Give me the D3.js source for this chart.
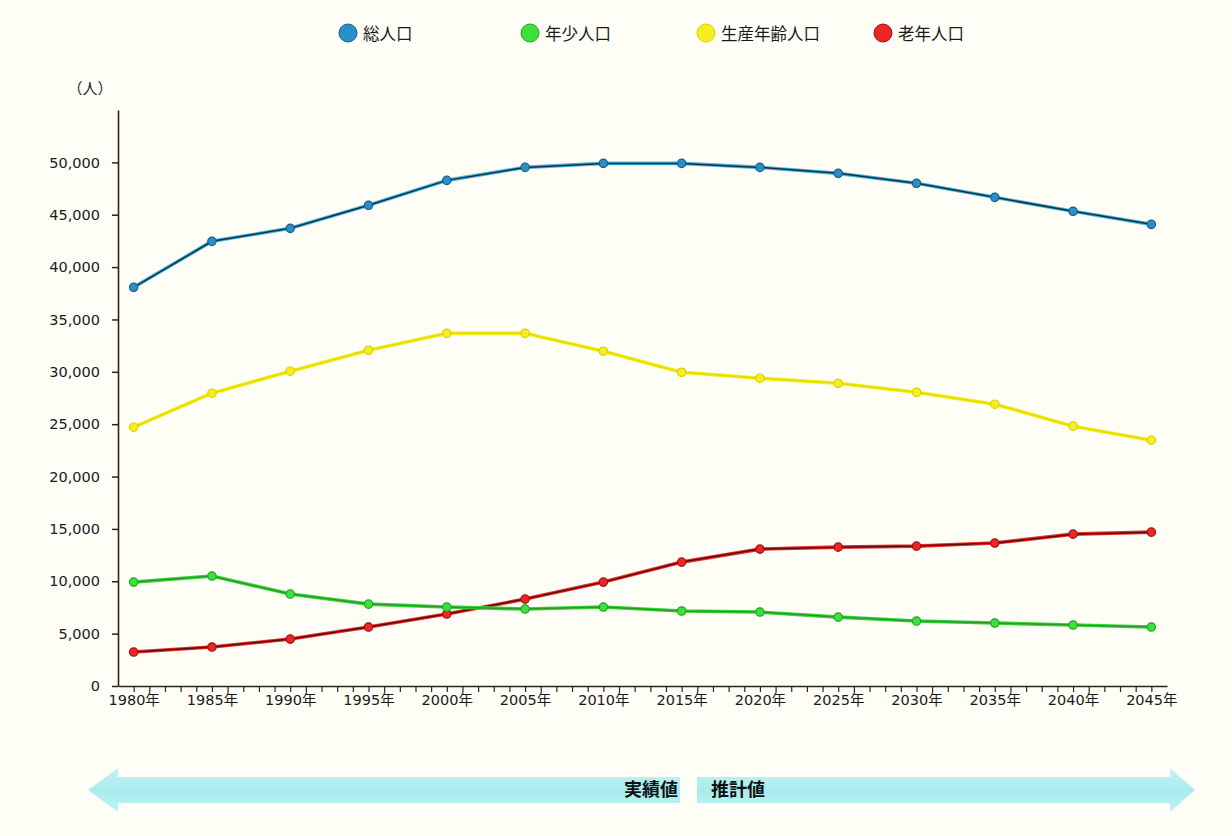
<!DOCTYPE html>
<html><head><meta charset="utf-8">
<script src="https://cdn.jsdelivr.net/npm/d3@7"></script>
<style>
html,body{margin:0;padding:0;background:#fffef6;}
svg text{font-family:"Noto Sans CJK JP","Noto Sans",sans-serif;}
</style></head><body>
<svg id="c" width="1232" height="836"></svg>
<script>
const years = [1980,1985,1990,1995,2000,2005,2010,2015,2020,2025,2030,2035,2040,2045];
const seriesNames = ["総人口","年少人口","生産年齢人口","老年人口"];
const totalPop   = [38070,42460,43700,45900,48280,49520,49900,49900,49520,48950,48000,46660,45330,44080];
const youngPop   = [9920,10500,8780,7820,7540,7350,7540,7160,7060,6580,6200,6010,5820,5630];
const workingPop = [24710,27960,30060,32060,33680,33680,31970,29960,29390,28910,28050,26910,24810,23470];
const elderPop   = [3240,3720,4480,5630,6870,8300,9920,11830,13070,13260,13360,13650,14500,14690];
const yTicks = [0,5000,10000,15000,20000,25000,30000,35000,40000,45000,50000];
const yUnit = "（人）";
const periodLabels = ["実績値","推計値"];

const svg = d3.select("#c");
const x = d3.scaleLinear().domain([1979,2046]).range([118,1167]);
const y = d3.scaleLinear().domain([0,55000]).range([686,110]);

// axes
const yAxis = d3.axisLeft(y).tickValues(yTicks).tickFormat(d3.format(",")).tickSize(6).tickSizeOuter(0);
const gy = svg.append("g").attr("transform","translate(118,0)").call(yAxis);
gy.select(".domain").attr("stroke","#2a2418").attr("stroke-width",1.6);
gy.selectAll(".tick line").attr("stroke","#2a2418").attr("stroke-width",1.5);
gy.selectAll(".tick text").attr("fill","#1a1a1a").attr("x",-18)
  .style("font-family","'DejaVu Sans',sans-serif").style("font-size","14.5px");

const allYears = d3.range(1980,2046);
const xAxis = d3.axisBottom(x).tickValues(allYears).tickSize(6).tickSizeOuter(0)
  .tickFormat(d => d % 5 === 0 ? d + "年" : "");
const gx = svg.append("g").attr("transform","translate(0,686)").call(xAxis);
gx.select(".domain").attr("stroke","#2a2418").attr("stroke-width",1.6);
gx.selectAll(".tick line").attr("stroke","#2a2418").attr("stroke-width",1.2);
gx.selectAll(".tick text").attr("fill","#1a1a1a").attr("y",9)
  .style("font-family","'DejaVu Sans','Noto Sans CJK JP',sans-serif").style("font-size","14.5px");

svg.append("text").attr("x",90).attr("y",94).attr("text-anchor","middle")
  .attr("font-size",15).attr("fill","#222").text(yUnit);

// series
const series = [
  {name:seriesNames[0], values:totalPop,   halo:"#48b4e4", core:"#14303c", fill:"#2a8fc8", stroke:"#155e84"},
  {name:seriesNames[1], values:youngPop,   halo:"#3ad43a", core:"#2a9a2a", fill:"#3ee03e", stroke:"#22a322"},
  {name:seriesNames[2], values:workingPop, halo:"#f4ec18", core:"#e4dc00", fill:"#f6ee20", stroke:"#d8d000"},
  {name:seriesNames[3], values:elderPop,   halo:"#ec2a2a", core:"#5a0c0c", fill:"#ec2626", stroke:"#a01010"}
];
const line = d3.line().x((d,i)=>x(years[i])).y(d=>y(d));
const drawOrder = [2,3,1,0];
drawOrder.forEach(k => {
  const s = series[k];
  const g = svg.append("g");
  g.append("path").attr("d",line(s.values)).attr("fill","none").attr("stroke",s.halo).attr("stroke-width",3.6);
  g.append("path").attr("d",line(s.values)).attr("fill","none").attr("stroke",s.core).attr("stroke-width",1.5);
  g.selectAll("circle").data(s.values).enter().append("circle")
    .attr("cx",(d,i)=>x(years[i])).attr("cy",d=>y(d)).attr("r",4.2)
    .attr("fill",s.fill).attr("stroke",s.stroke).attr("stroke-width",1.2);
});

// legend
const legX = [348,530,706,883];
series.forEach((s,i) => {
  svg.append("circle").attr("cx",legX[i]).attr("cy",33).attr("r",9)
    .attr("fill",s.fill).attr("stroke",s.stroke).attr("stroke-width",1);
  svg.append("text").attr("x",legX[i]+15).attr("y",39.5).attr("font-size",16.5)
    .attr("fill","#1a1a1a").text(s.name);
});

// period arrows
const defs = svg.append("defs");
const grad = defs.append("linearGradient").attr("id","ag").attr("x1",0).attr("x2",0).attr("y1",0).attr("y2",1);
grad.append("stop").attr("offset","0").attr("stop-color","#c4f4f4");
grad.append("stop").attr("offset","0.5").attr("stop-color","#a8ecee");
grad.append("stop").attr("offset","1").attr("stop-color","#c0f2f2");
const ay = 790, bh = 13, hh = 22;
svg.append("path").attr("fill","url(#ag)")
  .attr("d",`M88,${ay} L118,${ay-hh} L118,${ay-bh} L680,${ay-bh} L680,${ay+bh} L118,${ay+bh} L118,${ay+hh} Z`);
svg.append("path").attr("fill","url(#ag)")
  .attr("d",`M1195,${ay} L1170,${ay-hh} L1170,${ay-bh} L697,${ay-bh} L697,${ay+bh} L1170,${ay+bh} L1170,${ay+hh} Z`);
svg.append("text").attr("x",678).attr("y",ay+6).attr("text-anchor","end").attr("font-size",18)
  .attr("font-weight","bold").attr("fill","#111").text(periodLabels[0]);
svg.append("text").attr("x",711).attr("y",ay+6).attr("font-size",18)
  .attr("font-weight","bold").attr("fill","#111").text(periodLabels[1]);
</script>
</body></html>
